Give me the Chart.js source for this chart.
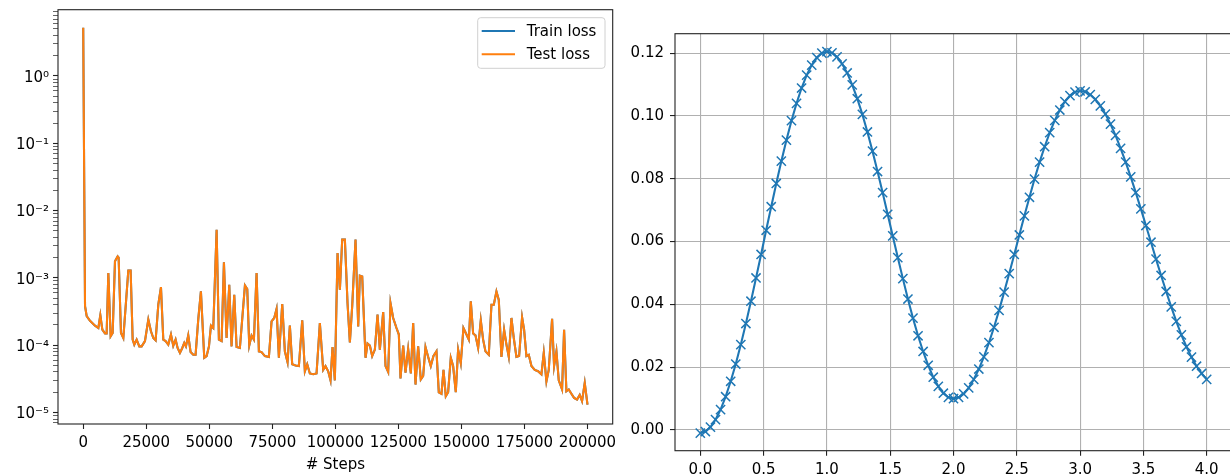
<!DOCTYPE html>
<html>
<head>
<meta charset="utf-8">
<script src="https://cdn.jsdelivr.net/npm/chart.js@4/dist/chart.umd.min.js"></script>
<style>
  html, body { margin: 0; padding: 0; background: #fff; }
  body { width: 1230px; height: 474px; overflow: hidden; position: relative; }
  .box { position: absolute; top: 0; }
</style>
</head>
<body>
<div class="box" style="left:0px"><canvas id="loss" width="620" height="474"></canvas></div>
<div class="box" style="left:620px"><canvas id="curve" width="620" height="474"></canvas></div>
<script>
// ---- left panel: loss history ----
var steps = [
  0, 720, 1380, 2700, 4680, 6000, 6790, 7580, 8640, 9300,
  9960, 10880, 11680, 12600, 13660, 14050, 14980, 15910, 17890, 18810,
  19610, 20260, 21190, 22240, 23170, 24490, 25820, 26870, 27800, 28720,
  29780, 30840, 31760, 32690, 33740, 34800, 35710, 36640, 37440, 38360,
  39290, 40080, 40740, 41660, 42590, 43640, 44570, 45620, 46680, 48010,
  48940, 49870, 50660, 51580, 52910, 53820, 54890, 55810, 56860, 57920,
  58840, 59900, 60830, 62140, 64140, 65060, 65850, 66770, 67700, 68760,
  69680, 70740, 72060, 73640, 74700, 75760, 76680, 77610, 78930, 79980,
  81040, 81960, 82890, 84210, 85540, 86860, 87910, 88840, 89890, 91210,
  92540, 93860, 95180, 96100, 97160, 98080, 98880, 99800, 100870, 101800,
  102720, 103780, 104830, 105760, 106680, 108000, 109060, 109720, 110650, 111970,
  112760, 113690, 114610, 115670, 116730, 117650, 118970, 119900, 120950, 121880,
  122930, 124250, 125180, 125840, 126900, 127820, 128880, 129940, 130860, 131790,
  132840, 133890, 134830, 135750, 136810, 137850, 138910, 140110, 141030, 142090,
  142890, 143800, 144730, 145780, 146710, 147760, 148690, 149750, 150800, 152010,
  152940, 153720, 154650, 155570, 156630, 157680, 158610, 159540, 160850, 161910,
  162840, 163890, 164820, 165870, 166930, 167860, 168780, 169840, 170760, 171820,
  172880, 174060, 174860, 175780, 176710, 177770, 179080, 180400, 181730, 182660,
  183710, 184640, 185960, 186750, 187680, 188600, 189920, 190720, 191640, 192570,
  193620, 194680, 195870, 196920, 197850, 198910, 200000
];
var testLoss = [
  5.2, 3.8e-4, 2.7e-4, 2.3e-4, 1.95e-4, 1.8e-4, 2.8e-4, 1.7e-4, 1.5e-4, 1.5e-4,
  1.18e-3, 1.36e-4, 1.52e-4, 1.76e-3, 2.09e-3, 2.0e-3, 1.52e-4, 1.28e-4, 1.29e-3, 1.29e-3,
  1.21e-4, 1.02e-4, 1.21e-4, 9.6e-5, 9.6e-5, 1.15e-4, 2.4e-4, 1.61e-4, 1.28e-4, 1.18e-4,
  4.0e-4, 7.3e-4, 1.21e-4, 1.15e-4, 1.02e-4, 1.44e-4, 9.8e-5, 1.21e-4, 9.1e-5, 7.7e-5,
  9.1e-5, 1.08e-4, 9.6e-5, 1.4e-4, 7.9e-5, 7.2e-5, 7.2e-5, 2.4e-4, 6.3e-4, 6.5e-5,
  6.9e-5, 9.6e-5, 1.95e-4, 1.8e-4, 5.2e-3, 1.21e-4, 1.15e-4, 1.7e-3, 1.28e-4, 7.9e-4,
  9.6e-5, 5.6e-4, 9.4e-5, 9.1e-5, 7.7e-4, 6.8e-4, 9.9e-5, 1.39e-4, 1.21e-4, 1.18e-3,
  8.1e-5, 7.9e-5, 6.9e-5, 6.7e-5, 2.26e-4, 2.54e-4, 3.45e-4, 6.5e-5, 4.1e-4, 8.1e-5,
  5.6e-5, 1.95e-4, 5.2e-5, 5.0e-5, 4.9e-5, 2.34e-4, 4.1e-5, 5.2e-5, 3.8e-5, 3.7e-5,
  3.8e-5, 2.14e-4, 4.3e-5, 4.9e-5, 4.1e-5, 3.0e-5, 9.4e-5, 3.0e-5, 2.34e-3, 6.7e-4,
  3.7e-3, 3.7e-3, 4.2e-4, 1.1e-4, 3.8e-4, 3.7e-3, 1.9e-4, 1.08e-3, 1.05e-3, 6.5e-5,
  1.06e-4, 9.9e-5, 6.9e-5, 8.6e-5, 2.85e-4, 8.6e-5, 3.1e-4, 4.9e-5, 4.0e-5, 4.2e-4,
  2.54e-4, 1.8e-4, 1.44e-4, 3.2e-5, 9.9e-5, 3.9e-5, 8.8e-5, 3.8e-5, 2.14e-4, 2.6e-5,
  9.6e-5, 3.1e-5, 3.5e-5, 9.4e-5, 6.7e-5, 4.9e-5, 6.9e-5, 8.1e-5, 2.0e-5, 1.9e-5,
  4.3e-5, 1.75e-5, 2.0e-5, 6.5e-5, 4.9e-5, 2.0e-5, 8.6e-5, 5.4e-5, 1.8e-4, 1.44e-4,
  1.21e-4, 4.5e-4, 1.49e-4, 1.4e-4, 9.1e-5, 2.34e-4, 1.21e-4, 8.1e-5, 7.2e-5, 4.0e-4,
  4.0e-4, 6.3e-4, 4.7e-4, 6.7e-5, 1.7e-4, 1.02e-4, 6.7e-5, 2.54e-4, 1.28e-4, 6.7e-5,
  6.9e-5, 2.6e-4, 1.7e-4, 6.9e-5, 7.2e-5, 4.9e-5, 4.3e-5, 4.1e-5, 3.7e-5, 7.7e-5,
  2.9e-5, 4.3e-5, 2.46e-4, 4.9e-5, 8.1e-5, 3.0e-5, 2.2e-5, 1.7e-4, 2.07e-5, 2.2e-5,
  1.9e-5, 1.65e-5, 1.56e-5, 1.83e-5, 1.48e-5, 2.75e-5, 1.31e-5
];
// train loss sits exactly under the test loss in the picture
var trainLoss = testLoss.slice();

var stepTicks = [0, 25000, 50000, 75000, 100000, 125000, 150000, 175000, 200000];
var decades = [1e-6, 1e-5, 1e-4, 1e-3, 1e-2, 1e-1, 1e0];
var mantissas = [1, 2, 3, 4, 5, 6, 7, 8, 9];

// ---- right panel ----
var xs = [
  0.00, 0.04, 0.08, 0.12, 0.16, 0.20, 0.24, 0.28, 0.32, 0.36,
  0.40, 0.44, 0.48, 0.52, 0.56, 0.60, 0.64, 0.68, 0.72, 0.76,
  0.80, 0.84, 0.88, 0.92, 0.96, 1.00, 1.04, 1.08, 1.12, 1.16,
  1.20, 1.24, 1.28, 1.32, 1.36, 1.40, 1.44, 1.48, 1.52, 1.56,
  1.60, 1.64, 1.68, 1.72, 1.76, 1.80, 1.84, 1.88, 1.92, 1.96,
  2.00, 2.04, 2.08, 2.12, 2.16, 2.20, 2.24, 2.28, 2.32, 2.36,
  2.40, 2.44, 2.48, 2.52, 2.56, 2.60, 2.64, 2.68, 2.72, 2.76,
  2.80, 2.84, 2.88, 2.92, 2.96, 3.00, 3.04, 3.08, 3.12, 3.16,
  3.20, 3.24, 3.28, 3.32, 3.36, 3.40, 3.44, 3.48, 3.52, 3.56,
  3.60, 3.64, 3.68, 3.72, 3.76, 3.80, 3.84, 3.88, 3.92, 3.96,
  4.00
];
var ys = [
  -0.0010, -0.0005, 0.0009, 0.0033, 0.0065, 0.0106, 0.0155, 0.0210, 0.0272, 0.0339,
  0.0410, 0.0484, 0.0559, 0.0636, 0.0711, 0.0785, 0.0856, 0.0923, 0.0985, 0.1040,
  0.1089, 0.1130, 0.1162, 0.1186, 0.1200, 0.1205, 0.1201, 0.1188, 0.1166, 0.1137,
  0.1099, 0.1055, 0.1005, 0.0949, 0.0888, 0.0823, 0.0756, 0.0687, 0.0618, 0.0549,
  0.0482, 0.0417, 0.0356, 0.0300, 0.0250, 0.0206, 0.0168, 0.0139, 0.0117, 0.0104,
  0.0100, 0.0104, 0.0115, 0.0134, 0.0161, 0.0194, 0.0233, 0.0278, 0.0327, 0.0381,
  0.0439, 0.0498, 0.0559, 0.0621, 0.0682, 0.0741, 0.0799, 0.0853, 0.0902, 0.0947,
  0.0986, 0.1019, 0.1046, 0.1065, 0.1076, 0.1080, 0.1077, 0.1068, 0.1053, 0.1032,
  0.1006, 0.0974, 0.0938, 0.0897, 0.0853, 0.0806, 0.0756, 0.0704, 0.0651, 0.0598,
  0.0544, 0.0492, 0.0441, 0.0392, 0.0346, 0.0303, 0.0265, 0.0232, 0.0203, 0.0180,
  0.0161
];
var xTicks = [0, 0.5, 1.0, 1.5, 2.0, 2.5, 3.0, 3.5, 4.0];
var yTicks = [0, 0.02, 0.04, 0.06, 0.08, 0.10, 0.12];

Chart.defaults.font.family = "'DejaVu Sans', sans-serif";
Chart.defaults.font.size = 15;
Chart.defaults.color = '#000';
Chart.defaults.animation = false;

var SUP = { '-': '\u207b', '0': '\u2070', '1': '\u00b9', '2': '\u00b2', '3': '\u00b3',
  '4': '\u2074', '5': '\u2075', '6': '\u2076', '7': '\u2077', '8': '\u2078', '9': '\u2079' };
function sup(n) {
  return String(n).split('').map(function(c) { return SUP[c]; }).join('');
}
function isDecade(v) {
  var e = Math.round(Math.log10(v));
  return Math.abs(v / Math.pow(10, e) - 1) < 1e-9;
}
// keep chart.js from reserving room for overhanging tick labels
function noOverhang(s) {
  s.paddingLeft = 0; s.paddingRight = 0; s.paddingTop = 0; s.paddingBottom = 0;
}

// all four spines, like matplotlib
var frame = {
  id: 'frame',
  afterDraw: function(chart) {
    var a = chart.chartArea, ctx = chart.ctx;
    ctx.save();
    ctx.strokeStyle = '#222';
    ctx.lineWidth = 1.1;
    ctx.strokeRect(a.left, a.top, a.right - a.left, a.bottom - a.top);
    ctx.restore();
  }
};

// legend box in the upper right corner of the axes
var boxLegend = {
  id: 'boxLegend',
  afterDraw: function(chart) {
    var a = chart.chartArea, ctx = chart.ctx;
    var w = 127.3, h = 50.6;
    var x0 = a.right - 7.7 - w, y0 = a.top + 8;
    ctx.save();
    ctx.beginPath();
    ctx.roundRect(x0, y0, w, h, 3);
    ctx.fillStyle = 'rgba(255,255,255,0.8)';
    ctx.fill();
    ctx.strokeStyle = '#d0d0d0';
    ctx.lineWidth = 1;
    ctx.stroke();
    ctx.font = "15px 'DejaVu Sans'";
    ctx.textBaseline = 'middle';
    ctx.fillStyle = '#000';
    chart.data.datasets.forEach(function(ds, i) {
      var yy = y0 + 13.3 + i * 23.3;
      ctx.beginPath();
      ctx.moveTo(x0 + 4, yy);
      ctx.lineTo(x0 + 37.3, yy);
      ctx.strokeStyle = ds.borderColor;
      ctx.lineWidth = 2.08;
      ctx.stroke();
      ctx.fillText(ds.label, x0 + 49, yy + 1);
    });
    ctx.restore();
  }
};

new Chart(document.getElementById('loss'), {
  type: 'line',
  data: {
    datasets: [
      { label: 'Train loss', data: steps.map(function(s, i) { return { x: s, y: trainLoss[i] }; }),
        borderColor: '#1f77b4', borderWidth: 2.08, pointRadius: 0, order: 1 },
      { label: 'Test loss', data: steps.map(function(s, i) { return { x: s, y: testLoss[i] }; }),
        borderColor: '#ff7f0e', borderWidth: 2.08, pointRadius: 0, order: 0 }
    ]
  },
  options: {
    responsive: false,
    layout: { padding: { top: 9.7, right: 7.3, left: 0, bottom: 0 } },
    plugins: { legend: { display: false }, tooltip: { enabled: false } },
    scales: {
      x: {
        type: 'linear', min: -10000, max: 210000,
        afterBuildTicks: function(s) { s.ticks = stepTicks.map(function(v) { return { value: v }; }); },
        afterFit: function(s) { s.height = 50; noOverhang(s); },
        ticks: { autoSkip: false, maxRotation: 0, padding: 5, callback: function(v) { return String(v); } },
        grid: { drawOnChartArea: false, drawTicks: true, tickLength: 5, tickColor: '#222', tickWidth: 1.1 },
        border: { display: false },
        title: { display: true, text: '# Steps', padding: { top: 0, bottom: 0 } }
      },
      y: {
        type: 'logarithmic', min: 6.75e-6, max: 9.65,
        afterBuildTicks: function(s) {
          var t = [];
          decades.forEach(function(d) {
            mantissas.forEach(function(m) {
              var v = m * d;
              if (v >= s.min && v <= s.max) t.push({ value: v });
            });
          });
          s.ticks = t;
        },
        afterFit: function(s) { s.width = 58; noOverhang(s); },
        ticks: {
          autoSkip: false, padding: 4, labelOffset: 2,
          callback: function(v) {
            return isDecade(v) ? '10' + sup(Math.round(Math.log10(v))) : '';
          }
        },
        grid: {
          drawOnChartArea: false, drawTicks: true, tickLength: 5, tickColor: '#222',
          tickWidth: function(c) { return c.tick && isDecade(c.tick.value) ? 1.1 : 0.7; }
        },
        border: { display: false }
      }
    }
  },
  plugins: [frame, boxLegend]
});

new Chart(document.getElementById('curve'), {
  type: 'line',
  data: {
    datasets: [{
      label: 'u',
      data: xs.map(function(x, i) { return { x: x, y: ys[i] }; }),
      borderColor: '#1f77b4', borderWidth: 2.08,
      pointStyle: 'crossRot', pointRadius: 6.5, pointBorderWidth: 1.5,
      pointBorderColor: '#1f77b4', pointBackgroundColor: '#1f77b4'
    }]
  },
  options: {
    responsive: false,
    layout: { padding: { top: 33.7, right: 4.4, left: 0, bottom: 0 } },
    plugins: { legend: { display: false }, tooltip: { enabled: false } },
    scales: {
      x: {
        type: 'linear', min: -0.2, max: 4.2,
        afterBuildTicks: function(s) { s.ticks = xTicks.map(function(v) { return { value: v }; }); },
        afterFit: function(s) { s.height = 23.3; noOverhang(s); },
        ticks: { autoSkip: false, maxRotation: 0, padding: 5, callback: function(v) { return v.toFixed(1); } },
        grid: { color: '#b0b0b0', lineWidth: 1.1, drawTicks: true, tickLength: 5, tickColor: '#222', tickWidth: 1.1 },
        border: { display: false }
      },
      y: {
        type: 'linear', min: -0.0066, max: 0.1262,
        afterBuildTicks: function(s) { s.ticks = yTicks.map(function(v) { return { value: v }; }); },
        afterFit: function(s) { s.width = 55; noOverhang(s); },
        ticks: { autoSkip: false, padding: 6, callback: function(v) { return v.toFixed(2); } },
        grid: { color: '#b0b0b0', lineWidth: 1.1, drawTicks: true, tickLength: 5, tickColor: '#222', tickWidth: 1.1 },
        border: { display: false }
      }
    }
  },
  plugins: [frame]
});
</script>
</body>
</html>
